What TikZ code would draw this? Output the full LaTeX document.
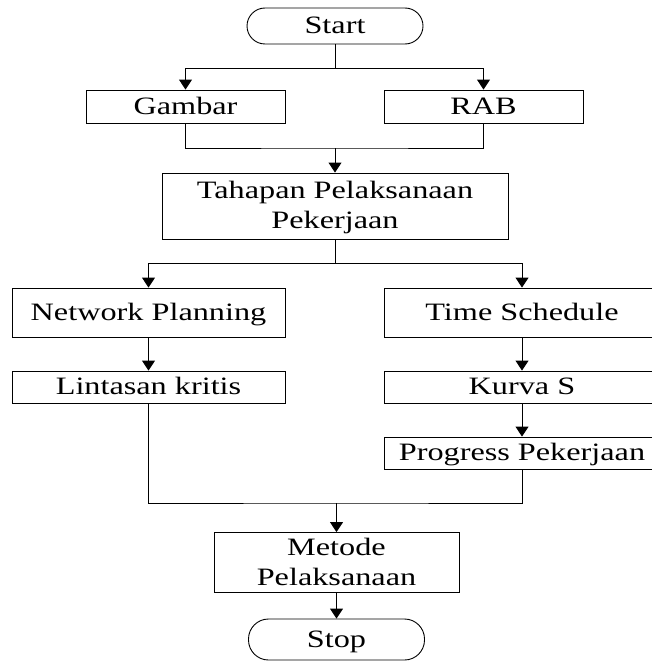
\documentclass[tikz,border=0pt]{standalone}
\usepackage{fontspec}
\setmainfont{Liberation Serif}
\usetikzlibrary{arrows.meta}
% horizontally widened text with a fixed line box, as set in the drawing
\newcommand{\sx}[1]{\scalebox{1.29}[1]{\rule[-7.5pt]{0pt}{30pt}#1}}
\begin{document}
\begin{tikzpicture}[x=1pt,y=-1pt,
  every node/.style={font=\fontsize{25}{30}\selectfont, inner sep=0pt, align=center},
  box/.style={draw, line width=0.9pt, rectangle},
  pill/.style={draw, line width=0.9pt, rectangle, rounded corners=#1},
  link/.style={line width=1pt},
  arr/.style={line width=1pt, -{Triangle[width=13pt,length=10pt]}}]
\clip (0,0) rectangle (652,661);
\fill[white] (0,0) rectangle (652,661);

% nodes
\node[pill=18pt, minimum width=176pt, minimum height=36pt] (start) at (335,26) {\sx{Start}};
\node[box, minimum width=199pt, minimum height=33pt] (gambar) at (185.5,106.5) {\sx{Gambar}};
\node[box, minimum width=199pt, minimum height=33pt] (rab) at (483.5,106.5) {\sx{RAB}};
\node[box, minimum width=346pt, minimum height=66pt] (tahapan) at (335,206) {\sx{Tahapan Pelaksanaan}\\\sx{Pekerjaan}};
\node[box, minimum width=273pt, minimum height=49pt] (network) at (148.5,312.5) {\sx{Network Planning}};
\node[box, minimum width=276pt, minimum height=49pt] (time) at (522,312.5) {\sx{Time Schedule}};
\node[box, minimum width=273pt, minimum height=32pt] (lintasan) at (148.5,387) {\sx{Lintasan kritis}};
\node[box, minimum width=276pt, minimum height=32pt] (kurva) at (522,387) {\sx{Kurva S}};
\node[box, minimum width=276pt, minimum height=32pt] (progress) at (522,453) {\sx{Progress Pekerjaan}};
\node[box, minimum width=245pt, minimum height=59pt] (metode) at (336.5,562.5) {\sx{Metode}\\\sx{Pelaksanaan}};
\node[pill=20pt, minimum width=176pt, minimum height=41pt] (stop) at (336.5,639.5) {\sx{Stop}};

% junction points
\coordinate (j1) at (335,69);
\coordinate (j2) at (335,148);
\coordinate (j3) at (335,263);
\coordinate (j4) at (336.5,503);

% connectors
\draw[link] (start.south) -- (j1);
\draw[arr] (j1) -| (gambar.north);
\draw[arr] (j1) -| (rab.north);
\draw[link] (gambar.south) |- (j2) -| (rab.south);
\draw[arr] (j2) -- (tahapan.north);
\draw[link] (tahapan.south) -- (j3);
\draw[arr] (j3) -| (network.north);
\draw[arr] (j3) -| (time.north);
\draw[arr] (network.south) -- (lintasan.north);
\draw[arr] (time.south) -- (kurva.north);
\draw[arr] (kurva.south) -- (progress.north);
\draw[link] (lintasan.south) |- (j4) -| (progress.south);
\draw[arr] (j4) -- (metode.north);
\draw[arr] (metode.south) -- (stop.north);
\end{tikzpicture}
\end{document}
